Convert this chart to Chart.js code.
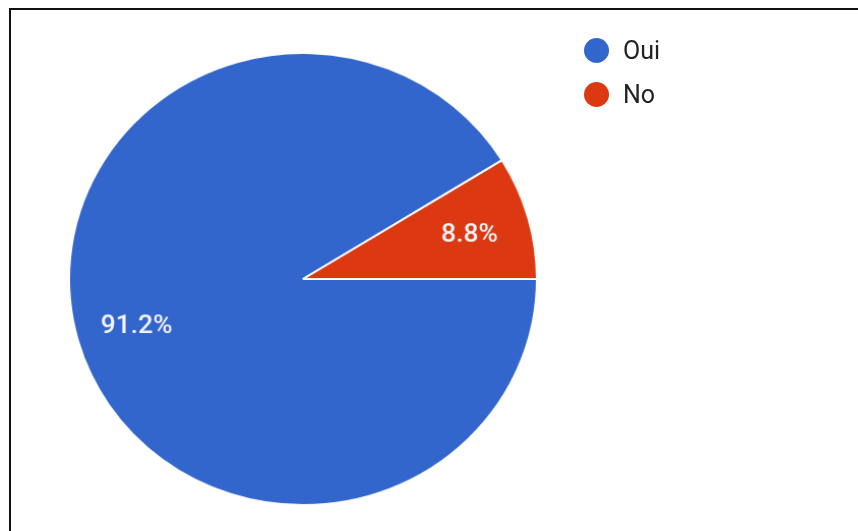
<!DOCTYPE html>
<html>
<head>
<meta charset="utf-8">
<script src="https://cdn.jsdelivr.net/npm/chart.js@4.4.0/dist/chart.umd.min.js"></script>
<style>
  html, body { margin: 0; padding: 0; background: #fff; }
  #wrap { position: relative; width: 858px; height: 531px; overflow: hidden; }
  #frame { position: absolute; left: 9px; top: 8px; right: -5px; bottom: -5px;
           border-top: 2px solid #111; border-left: 2px solid #111; }
  #box { position: absolute; left: 0; top: 0; width: 858px; height: 531px;
         transform-origin: 303px 279px; transform: scale(1.017, 0.983); }
  #legend { position: absolute; left: 584px; top: 28px; font-family: Roboto, sans-serif;
            font-size: 25px; color: #222; }
  .item { display: flex; align-items: center; height: 44px; }
  .dot { width: 25px; height: 25px; border-radius: 50%; margin-right: 14px; }
</style>
</head>
<body>
<div id="wrap">
  <div id="box"><canvas id="pie"></canvas></div>
  <div id="legend"></div>
  <div id="frame"></div>
</div>
<script>
var labels = ["Oui", "No"];
var values = [91.2, 8.8];
var colors = ['#3366cc', '#dc3912'];

// legend
var leg = document.getElementById('legend');
labels.forEach(function (l, i) {
    var d = document.createElement('div');
    d.className = 'item';
    d.innerHTML = '<span class="dot" style="background:' + colors[i] + '"></span>' + l;
    leg.appendChild(d);
});

// percent labels inside slices
var pctLabels = {
    id: 'pctLabels',
    afterDatasetsDraw: function (chart) {
        var c = chart.ctx;
        var meta = chart.getDatasetMeta(0);
        c.save();
        c.fillStyle = '#f4f4f4';
        c.font = '500 26px Roboto, sans-serif';
        c.textAlign = 'center';
        c.textBaseline = 'middle';
        meta.data.forEach(function (arc, i) {
            var mid = (arc.startAngle + arc.endAngle) / 2;
            var r = arc.outerRadius * 0.74;
            c.fillText(values[i].toFixed(1) + '%', arc.x + Math.cos(mid) * r, arc.y + Math.sin(mid) * r + 2);
        });
        c.restore();
    }
};

var ctx = document.getElementById('pie');
var chartGraph = new Chart(ctx, {
    type: 'pie',
    data: {
        labels: labels,
        datasets: [{
            data: values,
            backgroundColor: colors,
            borderColor: '#ffffff',
            borderWidth: 2
        }]
    },
    options: {
        responsive: true,
        maintainAspectRatio: false,
        animation: false,
        rotation: 90,
        layout: { padding: { top: 48, bottom: 21, left: 72, right: 324 } },
        plugins: {
            legend: { display: false },
            tooltip: { enabled: false }
        }
    },
    plugins: [pctLabels]
});
</script>
</body>
</html>
